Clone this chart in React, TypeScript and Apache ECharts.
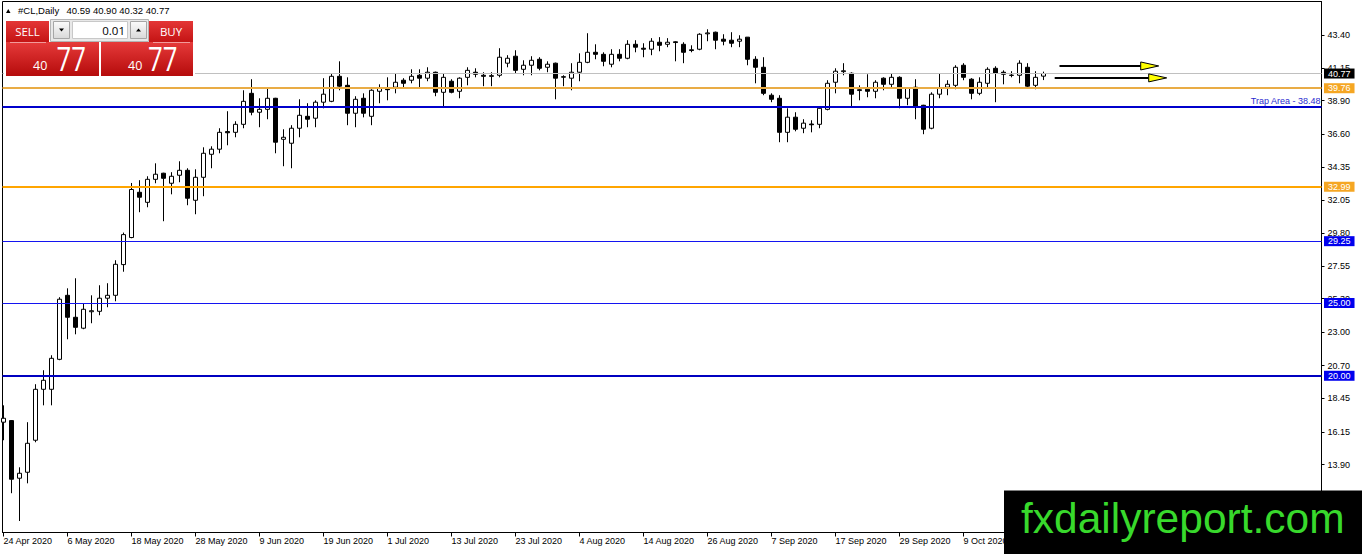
import React, { useEffect, useRef } from 'react';
import * as echarts from 'echarts';

// #CL daily candles, 24 Apr 2020 .. 23 Oct 2020
const OPEN = [
  16.81, 16.92, 12.96, 13.37, 15.57, 19.07, 19.07, 21.13, 25.53, 24.02,
  23.27, 24.40, 24.43, 25.33, 25.53, 27.64, 29.50, 32.61, 31.92, 33.50,
  33.92, 33.23, 33.78, 34.12, 32.06, 33.64, 35.22, 35.57, 36.78, 36.73,
  37.28, 39.41, 38.11, 38.31, 39.07, 36.25, 35.98, 37.01, 37.83, 37.70,
  38.80, 38.86, 40.58, 39.96, 38.04, 39.07, 37.83, 39.55, 39.70, 39.83,
  40.31, 40.31, 40.65, 40.45, 40.86, 39.48, 40.24, 39.55, 40.51, 40.86,
  40.65, 40.62, 40.65, 41.48, 41.96, 41.06, 41.34, 41.75, 41.20, 41.48,
  40.55, 40.45, 40.86, 41.54, 42.23, 42.09, 41.41, 42.09, 41.82, 42.78,
  42.51, 42.44, 42.92, 42.78, 42.95, 42.78, 42.40, 42.44, 43.50, 43.61,
  43.13, 43.06, 42.99, 43.27, 41.75, 41.20, 39.28, 39.07, 36.73, 37.77,
  37.01, 37.30, 37.28, 38.31, 40.17, 40.90, 40.79, 39.60, 39.69, 39.55,
  40.45, 40.03, 40.51, 39.07, 39.83, 38.59, 37.01, 39.35, 39.83, 39.96,
  41.34, 40.38, 39.41, 40.10, 41.13, 40.86, 40.64, 40.65, 41.20, 39.96,
  40.59,
];
const HIGH = [
  17.97, 16.95, 13.71, 16.81, 19.42, 20.38, 21.41, 25.40, 26.01, 26.70,
  24.98, 25.53, 26.22, 26.36, 27.94, 29.84, 33.25, 33.44, 33.71, 34.60,
  33.95, 33.99, 34.74, 34.26, 34.19, 35.70, 35.77, 37.01, 38.18, 37.49,
  39.62, 40.38, 39.07, 39.83, 39.10, 36.94, 37.22, 39.00, 38.73, 38.93,
  40.45, 40.79, 41.61, 40.51, 39.21, 39.41, 39.69, 40.03, 40.51, 40.79,
  40.45, 41.06, 41.06, 41.20, 40.90, 40.79, 40.38, 40.51, 41.20, 41.13,
  40.86, 40.86, 42.51, 42.03, 42.37, 41.68, 41.96, 41.89, 41.61, 41.52,
  40.65, 41.48, 42.16, 43.54, 42.78, 42.23, 42.44, 42.44, 43.06, 43.06,
  42.85, 43.20, 43.27, 43.20, 42.99, 42.92, 42.71, 43.54, 43.81, 43.65,
  43.47, 43.61, 43.40, 43.28, 41.96, 41.89, 39.41, 39.28, 38.38, 38.11,
  37.63, 37.56, 38.45, 40.31, 41.13, 41.48, 40.85, 39.96, 40.72, 40.31,
  40.51, 40.79, 40.58, 39.83, 40.38, 38.62, 39.48, 40.79, 40.31, 41.34,
  41.48, 40.45, 40.51, 41.20, 41.27, 40.99, 40.93, 41.68, 41.48, 40.93,
  40.90,
];
const LOW = [
  15.57, 11.93, 10.02, 12.61, 15.43, 17.97, 17.97, 21.07, 22.51, 22.85,
  23.20, 23.61, 24.16, 24.71, 25.12, 27.15, 29.45, 31.24, 31.58, 33.23,
  30.62, 32.47, 33.30, 31.72, 31.10, 32.34, 34.26, 35.29, 35.84, 36.39,
  37.01, 37.90, 37.08, 37.63, 35.29, 34.40, 34.26, 36.39, 37.08, 37.08,
  38.38, 38.80, 39.62, 37.22, 37.08, 37.76, 37.22, 38.73, 38.93, 39.41,
  39.83, 40.10, 39.83, 40.24, 39.21, 38.45, 39.41, 39.07, 39.96, 40.51,
  39.90, 39.90, 40.51, 41.20, 40.79, 40.65, 40.65, 40.99, 40.86, 39.00,
  39.90, 39.62, 40.24, 41.48, 41.75, 41.27, 41.20, 41.61, 41.75, 42.23,
  41.89, 42.03, 42.30, 42.58, 41.61, 41.48, 42.23, 42.37, 42.99, 42.44,
  42.71, 42.58, 42.58, 41.34, 40.10, 39.28, 38.80, 36.05, 36.05, 36.80,
  36.67, 36.73, 37.01, 38.24, 39.41, 40.65, 38.52, 38.93, 39.14, 39.07,
  39.62, 39.83, 38.38, 38.59, 37.63, 36.60, 36.94, 39.07, 39.28, 39.69,
  40.31, 39.00, 39.28, 39.83, 38.80, 40.03, 40.51, 40.10, 39.83, 39.69,
  40.32,
];
const CLOSE = [
  17.08, 12.89, 13.30, 15.36, 19.07, 19.69, 21.20, 25.26, 24.02, 23.33,
  24.57, 24.47, 25.33, 25.53, 27.66, 29.70, 32.80, 32.27, 33.50, 33.85,
  33.57, 33.71, 34.12, 32.20, 33.64, 35.29, 35.57, 36.73, 36.70, 37.28,
  38.86, 38.11, 38.31, 39.07, 36.05, 36.39, 37.01, 37.90, 37.63, 38.80,
  39.35, 40.58, 39.90, 38.04, 39.00, 38.04, 39.62, 39.76, 39.66, 40.17,
  40.10, 40.58, 40.45, 40.86, 39.48, 40.51, 39.48, 40.45, 40.99, 40.72,
  40.58, 40.58, 41.89, 41.82, 40.99, 41.34, 41.68, 41.13, 41.41, 40.45,
  40.52, 40.86, 41.54, 42.23, 42.09, 41.61, 42.09, 41.82, 42.78, 42.58,
  42.44, 42.99, 42.71, 42.92, 42.90, 42.23, 42.35, 43.47, 43.56, 43.06,
  42.99, 42.85, 43.13, 41.75, 41.20, 39.41, 39.00, 36.73, 37.77, 36.94,
  37.36, 37.25, 38.38, 40.10, 40.93, 40.96, 39.35, 39.66, 39.55, 40.17,
  40.03, 40.51, 39.07, 39.76, 38.52, 36.94, 39.35, 39.76, 40.03, 41.20,
  40.51, 39.41, 40.17, 41.06, 40.79, 40.72, 40.66, 41.48, 39.90, 40.51,
  40.77,
];

// date labels, one every 8 bars
const TICK_STEP = 8;
const TICK_LABELS = [
  '24 Apr 2020', '6 May 2020', '18 May 2020', '28 May 2020', '9 Jun 2020',
  '19 Jun 2020', '1 Jul 2020', '13 Jul 2020', '23 Jul 2020', '4 Aug 2020',
  '14 Aug 2020', '26 Aug 2020', '7 Sep 2020', '17 Sep 2020', '29 Sep 2020',
  '9 Oct 2020',
];
const PRICE_TICKS = [
  13.9, 16.15, 18.45, 20.7, 23.0, 25.3, 27.55, 29.8, 32.05, 34.35, 36.6, 38.9, 41.15, 43.4,
];

// horizontal levels
const LEVELS = [40.77, 39.76, 38.48, 32.99, 29.25, 25.0, 20.0];
const LEVEL_NAMES = ['', '', 'Trap Area', '', '', '', ''];

// the two arrows on the right (bar index from / to, price)
const ARROW_FROM = [132.0, 131.4];
const ARROW_TO = [144.4, 145.4];
const ARROW_PRICE = [41.29, 40.47];

const SYMBOL_TITLE = '#CL,Daily';
const LAST_OHLC = '40.59 40.90 40.32 40.77';
const LOT = '0.01';
const PRICE_BIG = '40';
const PRICE_PIPS = '77';
const WATERMARK = 'fxdailyreport.com';

const FONT = "'Liberation Sans', Arial, sans-serif";
const UI_FONT = "'Open Sans', 'Liberation Sans', sans-serif";

const LEVEL_STYLE = [
  { color: '#C0C0C0', width: 1, tag: '#000000' },
  { color: '#E9AC45', width: 2, tag: '#F5A623' },
  { color: '#0000CC', width: 2, tag: '' },
  { color: '#FFA500', width: 2, tag: '#F5A623' },
  { color: '#1414F0', width: 1.2, tag: '#0000EE' },
  { color: '#1414F0', width: 1.2, tag: '#0000EE' },
  { color: '#0000C0', width: 2, tag: '#0000EE' },
];

const redGrad = (top: string, bottom: string) => ({
  type: 'linear', x: 0, y: 0, x2: 0, y2: 1,
  colorStops: [{ offset: 0, color: top }, { offset: 1, color: bottom }],
});
const greyGrad = redGrad('#FBFBFB', '#D9D9D9');

function panelGraphics(): any[] {
  const z = 100;
  const txt = (x: number, y: number, text: string, size: number, fill: string, align = 'left', family = UI_FONT, scaleX = 1) => ({
    type: 'text', x, y, z: z + 2, scaleX, silent: true,
    style: { text, fill, fontSize: size, fontFamily: family, align, textAlign: align, verticalAlign: 'middle', textVerticalAlign: 'middle' },
  });
  const rect = (x: number, y: number, w: number, h: number, fill: any, stroke?: string) => ({
    type: 'rect', z, silent: true, shape: { x, y, width: w, height: h },
    style: { fill, stroke: stroke || null, lineWidth: stroke ? 1 : 0 },
  });
  return [
    // header line
    { type: 'polygon', z, silent: true, shape: { points: [[6, 13], [10.5, 13], [8.25, 9]] }, style: { fill: '#000' } },
    txt(18, 10.5, SYMBOL_TITLE, 9.5, '#000', 'left', FONT),
    txt(66.5, 10.5, LAST_OHLC, 9.5, '#000', 'left', FONT),
    // one-click trading panel
    rect(4, 18, 191, 59, '#FFFFFF'),
    rect(6, 21, 43, 21, redGrad('#E43636', '#C41414')),
    rect(149, 21, 44, 21, redGrad('#E43636', '#C41414')),
    rect(6, 42, 93, 34, redGrad('#E63A3A', '#B50B0B')),
    rect(101, 42, 92, 34, redGrad('#E63A3A', '#B50B0B')),
    { type: 'line', z: z + 1, silent: true, shape: { x1: 10, y1: 42.5, x2: 46, y2: 42.5 }, style: { stroke: '#F29A9A', lineWidth: 1 } },
    { type: 'line', z: z + 1, silent: true, shape: { x1: 153, y1: 42.5, x2: 190, y2: 42.5 }, style: { stroke: '#F29A9A', lineWidth: 1 } },
    rect(50.5, 19.5, 98, 22, '#E8E8E8', '#B4B4B4'),
    rect(53.5, 21.5, 16, 17, greyGrad, '#A6A6A6'),
    rect(72.5, 21.5, 55, 17, '#FFFFFF', '#C8C8C8'),
    rect(130.5, 21.5, 16, 17, greyGrad, '#A6A6A6'),
    { type: 'polygon', z: z + 1, silent: true, shape: { points: [[59, 28.5], [64, 28.5], [61.5, 31.5]] }, style: { fill: '#000' } },
    { type: 'polygon', z: z + 1, silent: true, shape: { points: [[136, 31.5], [141, 31.5], [138.5, 28.5]] }, style: { fill: '#000' } },
    txt(27.5, 31, 'SELL', 11.5, '#FFFFFF', 'center'),
    txt(171, 31, 'BUY', 11.5, '#FFFFFF', 'center'),
    txt(125, 30, LOT, 11.5, '#000000', 'right'),
    txt(33, 65.5, PRICE_BIG, 12.5, '#FFFFFF'),
    txt(56.5, 58.5, PRICE_PIPS, 33, '#FFFFFF', 'left', UI_FONT, 0.78),
    txt(128, 65.5, PRICE_BIG, 12.5, '#FFFFFF'),
    txt(148, 58.5, PRICE_PIPS, 33, '#FFFFFF', 'left', UI_FONT, 0.78),
    // watermark box
    rect(1004, 490.5, 358, 64, '#000000'),
    txt(1021, 518, WATERMARK, 42.5, '#38D92C', 'left', FONT),
  ];
}

function buildOption(): any {
  const candles = OPEN.map((o, i) => [i, o, CLOSE[i], LOW[i], HIGH[i]]);
  const tickIdx = TICK_LABELS.map((_, i) => i * TICK_STEP);
  const arrows = ARROW_FROM.map((f, i) => [f, ARROW_TO[i], ARROW_PRICE[i]]);

  return {
    animation: false,
    backgroundColor: '#FFFFFF',
    textStyle: { fontFamily: FONT },
    grid: {
      left: 2.5, top: 1.5, right: 40.5, bottom: 21.5,
      show: true, borderColor: '#000', borderWidth: 1, backgroundColor: 'transparent',
    },
    xAxis: {
      type: 'value',
      min: -0.125,
      max: 164.75,
      axisLine: { show: true, onZero: false, lineStyle: { color: '#000', width: 1 } },
      axisTick: { show: true, customValues: tickIdx, length: 4, lineStyle: { color: '#000' } },
      axisLabel: {
        customValues: tickIdx,
        formatter: (v: number) => TICK_LABELS[Math.round(v / TICK_STEP)] ?? '',
        align: 'left',
        margin: 4,
        fontSize: 9,
        color: '#000',
        fontFamily: FONT,
      },
      splitLine: { show: false },
    },
    yAxis: {
      type: 'value',
      position: 'right',
      min: 9.23,
      max: 45.72,
      axisLine: { show: true, onZero: false, lineStyle: { color: '#000', width: 1 } },
      axisTick: { show: true, customValues: PRICE_TICKS, length: 3, lineStyle: { color: '#000' } },
      axisLabel: {
        customValues: PRICE_TICKS,
        formatter: (v: number) => v.toFixed(2),
        margin: 6,
        fontSize: 9,
        color: '#000',
        fontFamily: FONT,
      },
      splitLine: { show: false },
    },
    series: [
      {
        type: 'candlestick',
        data: candles,
        encode: { x: 0, y: [1, 2, 3, 4] },
        barWidth: 4,
        silent: true,
        itemStyle: {
          color: '#FFFFFF',
          color0: '#000000',
          borderColor: '#000000',
          borderColor0: '#000000',
          borderWidth: 1,
        },
        markLine: {
          silent: true,
          animation: false,
          symbol: ['none', 'none'],
          data: LEVELS.map((price, i) => {
            const st = LEVEL_STYLE[i];
            const name = LEVEL_NAMES[i];
            return {
              yAxis: price,
              lineStyle: { color: st.color, width: st.width, type: 'solid' },
              label: name
                ? {
                    show: true,
                    position: 'insideEndTop',
                    distance: [1, 1],
                    formatter: `${name} - ${price.toFixed(2)}`,
                    color: '#2B2BD0',
                    fontSize: 9,
                    fontFamily: FONT,
                  }
                : {
                    show: true,
                    position: 'end',
                    distance: 2.5,
                    formatter: price.toFixed(2),
                    color: '#FFFFFF',
                    backgroundColor: st.tag,
                    padding: [1, 4, 0, 4],
                    fontSize: 9,
                    lineHeight: 9,
                    fontFamily: FONT,
                  },
            };
          }),
        },
      },
      {
        type: 'custom',
        data: arrows,
        encode: { x: [0, 1], y: 2 },
        silent: true,
        z: 5,
        clip: false,
        renderItem: (_p: any, api: any) => {
          const a = api.coord([api.value(0), api.value(2)]);
          const b = api.coord([api.value(1), api.value(2)]);
          const head = 18;
          const half = 4;
          return {
            type: 'group',
            children: [
              { type: 'line', shape: { x1: a[0], y1: a[1], x2: b[0] - head, y2: b[1] }, style: { stroke: '#000', lineWidth: 2 } },
              {
                type: 'polygon',
                shape: { points: [[b[0] - head, b[1] - half], [b[0], b[1]], [b[0] - head, b[1] + half]] },
                style: { fill: '#FFFF00', stroke: '#000', lineWidth: 1 },
              },
            ],
          };
        },
      },
    ],
    graphic: panelGraphics(),
  };
}

export default function App() {
  const chartRef = useRef<HTMLDivElement>(null);

  useEffect(() => {
    if (!chartRef.current) return;
    const chart = echarts.init(chartRef.current, undefined, { renderer: 'svg' });
    chart.setOption(buildOption());
    return () => {
      chart.dispose();
    };
  }, []);

  return (
    <div
      ref={chartRef}
      style={{ position: 'fixed', left: 0, top: 0, width: 1362, height: 554, background: '#fff' }}
    />
  );
}
